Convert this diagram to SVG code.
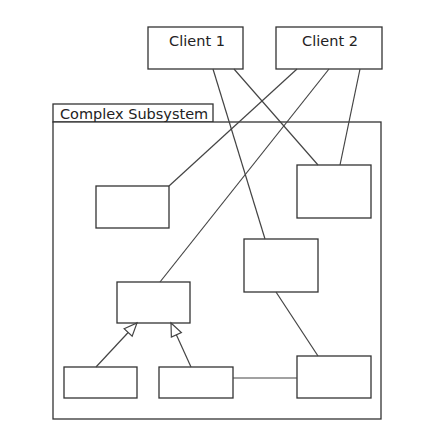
<svg xmlns="http://www.w3.org/2000/svg" width="434" height="442" viewBox="0 0 434 442">
<style>
.n{fill:#fff;stroke:#333;stroke-width:1.3}
.c{stroke:#444;stroke-width:1.2;fill:none}
.t{font-family:"DejaVu Sans",sans-serif;font-size:14.5px;fill:#222}
</style>
<defs>
<marker id="tri" markerWidth="16" markerHeight="16" refX="14" refY="7" orient="auto" markerUnits="userSpaceOnUse">
<path d="M1,1.5 L14,7 L1,12.5 Z" fill="#fff" stroke="#444" stroke-width="1.2"/>
</marker>
</defs>
<rect width="434" height="442" fill="#fff"/>
<g id="subsystem">
<rect class="n" x="53" y="104" width="160" height="18"/>
<rect class="n" x="53" y="122" width="328" height="297"/>
<text class="t" x="60" y="118.5">Complex Subsystem</text>
</g>
<g id="client1">
<rect class="n" x="148" y="27" width="95" height="42"/>
<text class="t" x="197" y="45.5" text-anchor="middle">Client 1</text>
</g>
<g id="client2">
<rect class="n" x="276" y="27" width="106" height="42"/>
<text class="t" x="330" y="45.5" text-anchor="middle">Client 2</text>
</g>
<g id="boxA"><rect class="n" x="96" y="186" width="73" height="42"/></g>
<g id="boxB"><rect class="n" x="297" y="165" width="74" height="53"/></g>
<g id="boxC"><rect class="n" x="244" y="239" width="74" height="53"/></g>
<g id="boxD"><rect class="n" x="297" y="356" width="74" height="42"/></g>
<g id="boxE"><rect class="n" x="117" y="282" width="73" height="41"/></g>
<g id="boxF"><rect class="n" x="64" y="367" width="73" height="31"/></g>
<g id="boxG"><rect class="n" x="159" y="367" width="74" height="31"/></g>
<g id="connectors">
<line class="c" x1="213" y1="69" x2="265" y2="239"/>
<line class="c" x1="234" y1="69" x2="318" y2="165"/>
<line class="c" x1="297" y1="69" x2="169" y2="186"/>
<line class="c" x1="329" y1="69" x2="160" y2="282"/>
<line class="c" x1="360" y1="69" x2="340" y2="165"/>
<line class="c" x1="276" y1="292" x2="318" y2="356"/>
<line class="c" x1="233" y1="378" x2="297" y2="378"/>
<line class="c" x1="96" y1="367" x2="137" y2="323" marker-end="url(#tri)"/>
<line class="c" x1="191" y1="367" x2="171" y2="323" marker-end="url(#tri)"/>
</g>
</svg>
